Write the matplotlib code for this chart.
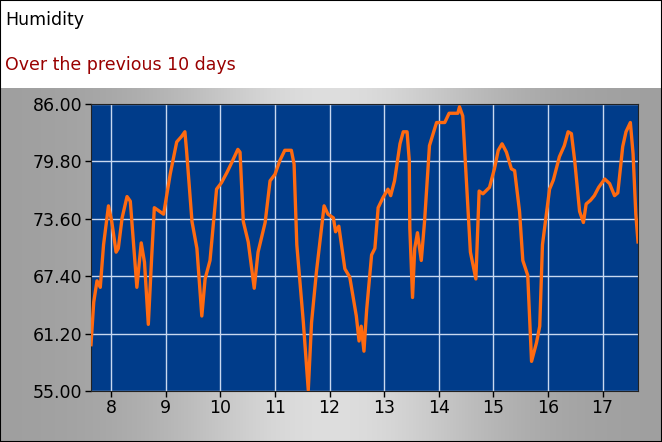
import numpy as np
import matplotlib
matplotlib.use("Agg")
import matplotlib.pyplot as plt

days = [7.63,7.68,7.74,7.80,7.86,7.95,8.01,8.09,8.13,8.20,8.29,8.35,8.41,8.47,8.55,8.61,8.68,8.74,8.79,8.96,
        9.08,9.20,9.29,9.35,9.38,9.48,9.57,9.66,9.72,9.81,9.93,10.02,10.12,10.21,10.32,10.36,10.42,10.51,10.62,10.69,
        10.82,10.91,11.00,11.09,11.18,11.30,11.35,11.40,11.52,11.61,11.67,11.76,11.90,11.97,12.07,12.11,12.17,12.28,12.37,12.49,
        12.54,12.58,12.63,12.68,12.77,12.83,12.89,12.98,13.07,13.12,13.19,13.29,13.35,13.42,13.46,13.47,13.52,13.56,13.61,13.68,
        13.74,13.83,13.96,14.11,14.19,14.35,14.38,14.44,14.51,14.58,14.68,14.74,14.81,14.93,15.02,15.09,15.16,15.24,15.33,15.39,
        15.48,15.54,15.63,15.70,15.79,15.85,15.90,16.03,16.10,16.21,16.30,16.37,16.43,16.49,16.58,16.65,16.70,16.78,16.85,16.93,
        17.04,17.13,17.22,17.28,17.37,17.43,17.51,17.56,17.61,17.65]
humidity = [60.0,64.6,66.9,66.2,70.8,75.0,73.3,70.0,70.4,73.7,76.0,75.5,70.8,66.2,71.0,68.9,62.2,69.3,74.8,74.1,
            78.4,81.9,82.5,83.0,81.0,73.3,70.4,63.1,67.1,69.1,76.8,77.5,78.6,79.7,81.1,80.8,73.3,71.1,66.1,70.0,
            73.2,77.7,78.4,79.9,81.0,81.0,79.5,70.8,62.4,55.1,62.4,67.9,75.0,74.1,73.7,72.2,72.8,68.2,67.3,63.1,
            60.4,62.0,59.3,63.8,69.7,70.4,74.8,75.9,76.8,76.1,77.7,81.7,83.0,83.0,79.9,72.6,65.1,70.4,72.1,69.1,
            73.3,81.5,84.0,84.0,85.0,85.0,85.7,84.7,77.3,70.0,67.1,76.6,76.3,77.0,79.0,81.0,81.7,80.8,79.0,78.8,
            74.4,69.1,67.5,58.2,60.2,62.0,70.8,76.8,77.8,80.3,81.5,83.0,82.8,79.9,74.4,73.2,75.2,75.6,76.1,77.0,
            77.9,77.4,76.1,76.4,81.4,83.0,84.0,80.6,74.1,71.1]
xticks = list(range(8, 18))
yticks = [55.00, 61.20, 67.40, 73.60, 79.80, 86.00]

fig = plt.figure(figsize=(6.62, 4.42), dpi=100)
W, H = 662, 442

# gray gradient panel
bg = fig.add_axes([0, 0, 1, 1 - 88 / H])
grad = np.linspace(0, 1, 256)
g = 0.62 + 0.25 * np.exp(-((grad - 0.5) / 0.25) ** 2)
img = np.tile(g[None, :, None], (2, 1, 3))
bg.imshow(img, aspect="auto", extent=[0, 1, 0, 1])
bg.set_axis_off()

fig.text(5 / W, 1 - 20 / H, "Humidity", fontsize=12.5, color="black", va="center", ha="left")
fig.text(5 / W, 1 - 65 / H, "Over the previous 10 days", fontsize=12.5, color="#990000", va="center", ha="left")

ax = fig.add_axes([91 / W, 1 - 391 / H, (638 - 91) / W, (391 - 104) / H])
ax.set_facecolor("#003c8a")
ax.plot(days, humidity, color="#ff6a10", lw=2.4, zorder=3)
ax.set_xlim(7.63, 17.65)
ax.set_ylim(55, 86)
ax.set_xticks(xticks)
ax.set_xticklabels([str(t) for t in xticks], fontsize=12.5)
ax.set_yticks(yticks)
ax.set_yticklabels([f"{t:.2f}" for t in yticks], fontsize=12.5)
ax.grid(True, color="#c8d8f0", lw=1)
ax.tick_params(length=4, width=1, color="black", pad=2)
for s in ax.spines.values():
    s.set_color("#222222")

border = plt.Rectangle((0, 0), 1, 1, transform=fig.transFigure, fill=False, ec="black", lw=1.5)
fig.patches.append(border)

fig.savefig("out.png", dpi=100)
